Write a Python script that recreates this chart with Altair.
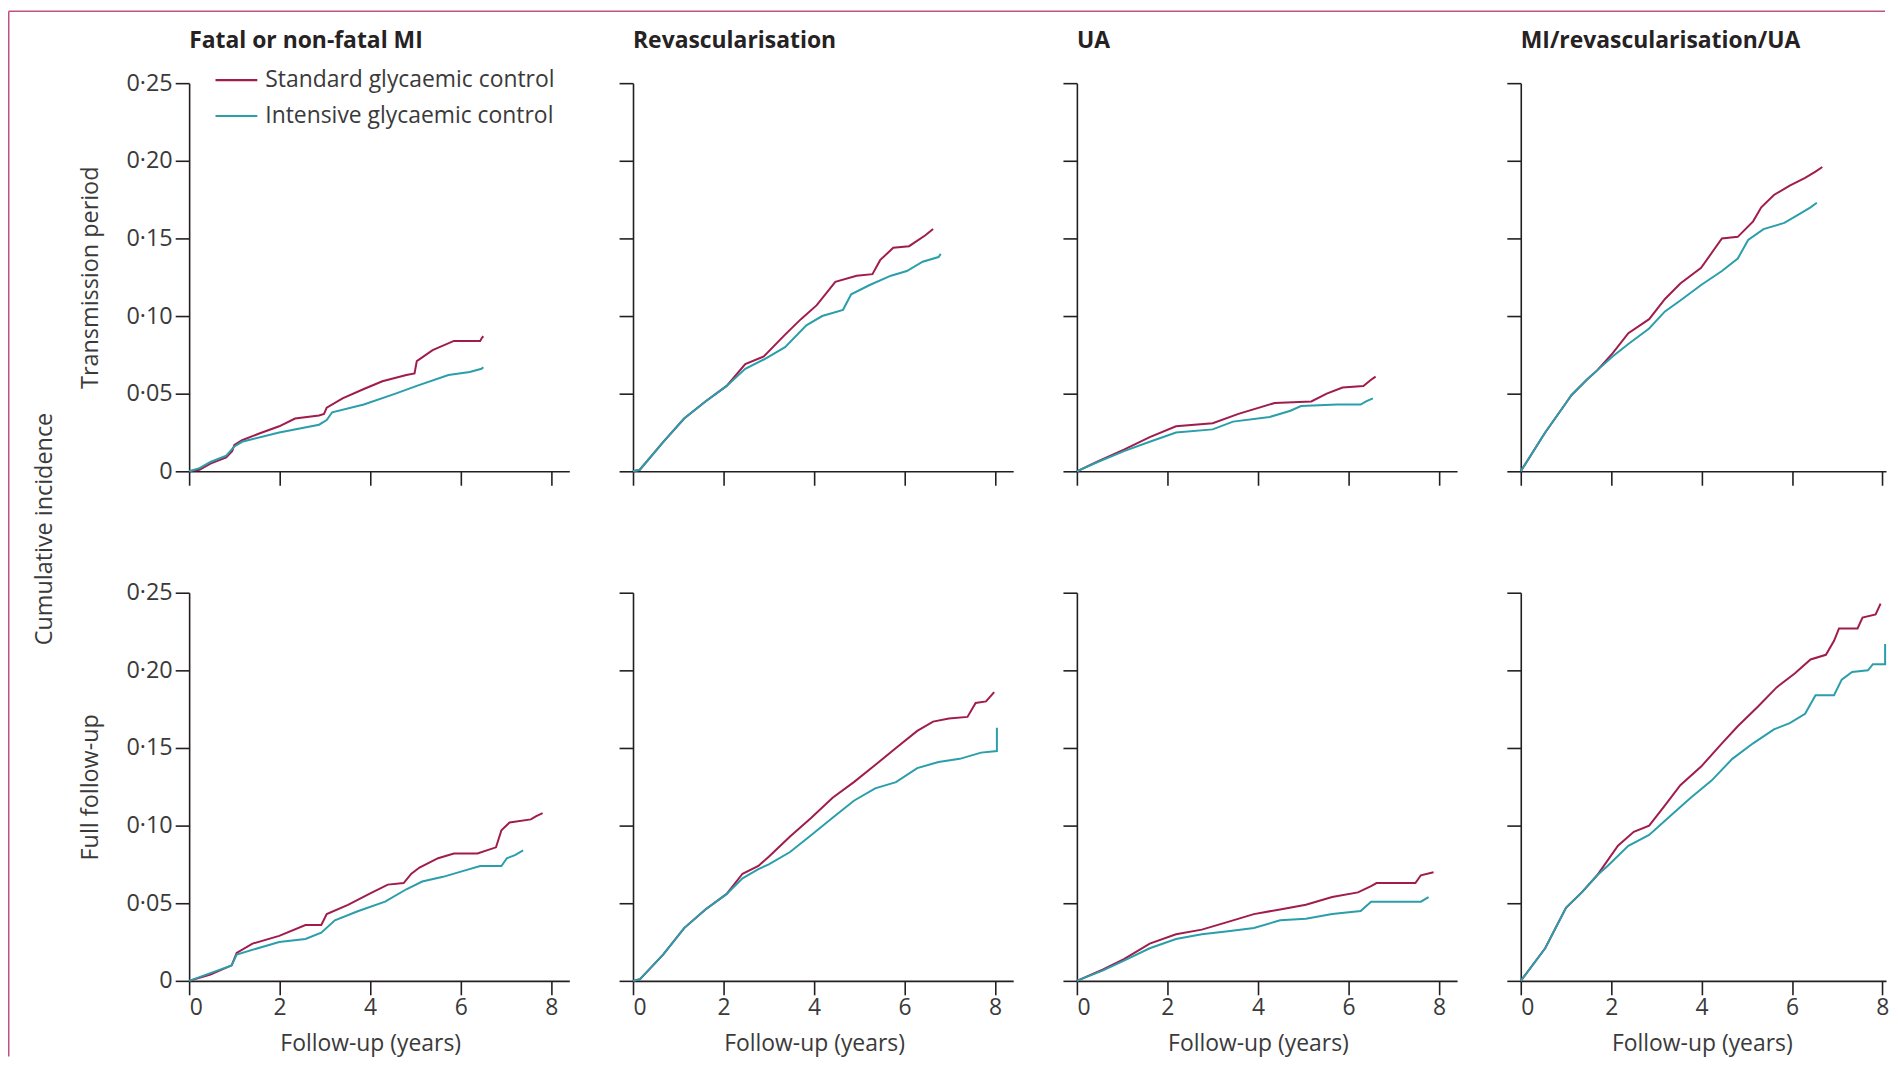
import altair as alt
import pandas as pd

STD = "Standard glycaemic control"
INT = "Intensive glycaemic control"
series_names = [STD, INT]
panel_titles = ["Fatal or non-fatal MI", "Revascularisation", "UA", "MI/revascularisation/UA"]
row_titles = ["Transmission period", "Full follow-up"]
y_title_all = "Cumulative incidence"
x_title = "Follow-up (years)"
x_ticks = [0, 2, 4, 6, 8]
y_ticks = [0, 0.05, 0.10, 0.15, 0.20, 0.25]

# ---- Transmission period ----
mi_tp_std_t = [0, 0.23, 0.47, 0.82, 0.95, 1.0, 1.17, 1.52, 1.99, 2.34, 2.87, 2.98, 3.04, 3.39, 3.86, 4.27, 4.8, 4.98, 5.03, 5.38, 5.85, 6.43, 6.47, 6.5]
mi_tp_std_v = [0, 0.001, 0.005, 0.009, 0.013, 0.017, 0.020, 0.024, 0.029, 0.034, 0.036, 0.037, 0.041, 0.047, 0.053, 0.058, 0.062, 0.063, 0.071, 0.078, 0.084, 0.084, 0.086, 0.087]
mi_tp_int_t = [0, 0.23, 0.47, 0.82, 1.0, 1.17, 1.99, 2.87, 3.04, 3.16, 3.86, 4.56, 5.03, 5.73, 6.2, 6.46, 6.5]
mi_tp_int_v = [0, 0.002, 0.006, 0.010, 0.016, 0.019, 0.025, 0.030, 0.033, 0.038, 0.043, 0.050, 0.055, 0.062, 0.064, 0.066, 0.067]

rv_tp_std_t = [0, 0.15, 0.67, 1.13, 1.6, 2.07, 2.48, 2.89, 3.36, 3.71, 4.06, 4.47, 4.94, 5.29, 5.46, 5.75, 6.1, 6.46, 6.63]
rv_tp_std_v = [0, 0.001, 0.019, 0.034, 0.045, 0.055, 0.069, 0.074, 0.088, 0.098, 0.107, 0.122, 0.126, 0.127, 0.136, 0.144, 0.145, 0.152, 0.156]
rv_tp_int_t = [0, 0.15, 0.67, 1.13, 1.6, 2.07, 2.48, 2.89, 3.36, 3.83, 4.18, 4.64, 4.82, 5.23, 5.7, 6.05, 6.4, 6.75, 6.8]
rv_tp_int_v = [0, 0.001, 0.019, 0.034, 0.045, 0.055, 0.066, 0.072, 0.080, 0.094, 0.100, 0.104, 0.114, 0.120, 0.126, 0.129, 0.135, 0.138, 0.140]

ua_tp_std_t = [0, 0.46, 1.04, 1.61, 2.19, 3.0, 3.57, 4.37, 5.18, 5.52, 5.87, 6.33, 6.5, 6.6]
ua_tp_std_v = [0, 0.0064, 0.014, 0.022, 0.029, 0.031, 0.037, 0.044, 0.045, 0.050, 0.054, 0.055, 0.059, 0.061]
ua_tp_int_t = [0, 0.46, 1.04, 1.61, 2.19, 3.0, 3.45, 4.26, 4.72, 4.95, 5.75, 6.27, 6.39, 6.54]
ua_tp_int_v = [0, 0.006, 0.013, 0.019, 0.025, 0.027, 0.032, 0.035, 0.039, 0.042, 0.043, 0.043, 0.045, 0.047]

co_tp_std_t = [0, 0.54, 1.0, 1.12, 1.46, 1.69, 2.03, 2.38, 2.84, 3.19, 3.53, 3.99, 4.28, 4.45, 4.8, 5.14, 5.32, 5.6, 5.95, 6.29, 6.52, 6.67]
co_tp_std_v = [0, 0.025, 0.044, 0.049, 0.059, 0.065, 0.076, 0.089, 0.098, 0.111, 0.121, 0.131, 0.143, 0.150, 0.151, 0.161, 0.170, 0.178, 0.184, 0.189, 0.193, 0.196]
co_tp_int_t = [0, 0.54, 1.0, 1.12, 1.46, 1.69, 2.03, 2.38, 2.84, 3.19, 3.53, 3.99, 4.45, 4.8, 5.03, 5.37, 5.83, 6.18, 6.41, 6.55]
co_tp_int_v = [0, 0.025, 0.044, 0.049, 0.059, 0.065, 0.074, 0.082, 0.092, 0.103, 0.110, 0.120, 0.129, 0.137, 0.149, 0.156, 0.160, 0.166, 0.170, 0.173]

# ---- Full follow-up ----
mi_ff_std_t = [0, 0.47, 0.94, 1.05, 1.4, 1.99, 2.57, 2.92, 3.04, 3.51, 3.98, 4.39, 4.74, 4.91, 5.09, 5.5, 5.85, 6.37, 6.78, 6.9, 7.08, 7.55, 7.66, 7.81]
mi_ff_std_v = [0, 0.004, 0.010, 0.018, 0.024, 0.029, 0.036, 0.036, 0.043, 0.049, 0.056, 0.062, 0.063, 0.069, 0.073, 0.079, 0.082, 0.082, 0.086, 0.097, 0.102, 0.104, 0.106, 0.108]
mi_ff_int_t = [0, 0.47, 0.94, 1.05, 1.99, 2.57, 2.92, 3.22, 3.74, 4.33, 4.8, 5.15, 5.61, 6.08, 6.43, 6.9, 7.02, 7.2, 7.38]
mi_ff_int_v = [0, 0.005, 0.010, 0.017, 0.025, 0.027, 0.031, 0.039, 0.045, 0.051, 0.059, 0.064, 0.067, 0.071, 0.074, 0.074, 0.079, 0.081, 0.084]

rv_ff_std_t = [0, 0.15, 0.67, 1.13, 1.6, 2.07, 2.42, 2.77, 3.0, 3.47, 3.94, 4.41, 4.88, 5.35, 5.81, 6.28, 6.63, 6.98, 7.39, 7.57, 7.8, 7.98]
rv_ff_std_v = [0, 0.001, 0.017, 0.034, 0.046, 0.056, 0.069, 0.074, 0.080, 0.093, 0.105, 0.118, 0.128, 0.139, 0.150, 0.161, 0.167, 0.169, 0.170, 0.179, 0.180, 0.186]
rv_ff_int_t = [0, 0.15, 0.67, 1.13, 1.6, 2.07, 2.42, 2.77, 3.0, 3.47, 3.94, 4.41, 4.88, 5.35, 5.81, 6.28, 6.75, 7.22, 7.69, 8.04, 8.04]
rv_ff_int_v = [0, 0.001, 0.017, 0.034, 0.046, 0.056, 0.066, 0.072, 0.075, 0.083, 0.094, 0.105, 0.116, 0.124, 0.128, 0.137, 0.141, 0.143, 0.147, 0.148, 0.163]

ua_ff_std_t = [0, 0.58, 1.04, 1.61, 2.19, 2.76, 3.34, 3.91, 4.49, 5.06, 5.64, 6.21, 6.5, 6.62, 7.48, 7.6, 7.88]
ua_ff_std_v = [0, 0.0074, 0.014, 0.024, 0.030, 0.033, 0.038, 0.043, 0.046, 0.049, 0.054, 0.057, 0.061, 0.063, 0.063, 0.068, 0.070]
ua_ff_int_t = [0, 0.58, 1.04, 1.61, 2.19, 2.76, 3.34, 3.91, 4.49, 5.06, 5.64, 6.27, 6.5, 7.6, 7.77]
ua_ff_int_v = [0, 0.0068, 0.013, 0.021, 0.027, 0.030, 0.032, 0.034, 0.039, 0.040, 0.043, 0.045, 0.051, 0.051, 0.054]

co_ff_std_t = [0, 0.54, 1.0, 1.35, 1.69, 2.15, 2.5, 2.84, 3.19, 3.53, 3.99, 4.45, 4.8, 5.26, 5.66, 6.06, 6.41, 6.75, 6.93, 7.04, 7.45, 7.56, 7.85, 7.96]
co_ff_std_v = [0, 0.021, 0.047, 0.057, 0.068, 0.087, 0.096, 0.100, 0.113, 0.126, 0.138, 0.153, 0.164, 0.177, 0.189, 0.198, 0.207, 0.210, 0.219, 0.227, 0.227, 0.234, 0.236, 0.243]
co_ff_int_t = [0, 0.54, 1.0, 1.35, 1.69, 1.92, 2.38, 2.84, 3.3, 3.76, 4.22, 4.68, 5.14, 5.6, 5.95, 6.29, 6.52, 6.93, 7.1, 7.33, 7.68, 7.79, 8.06, 8.06]
co_ff_int_v = [0, 0.021, 0.047, 0.057, 0.068, 0.074, 0.087, 0.094, 0.106, 0.118, 0.129, 0.143, 0.153, 0.162, 0.166, 0.172, 0.184, 0.184, 0.194, 0.199, 0.200, 0.204, 0.204, 0.217]

panels_data = [
    [(mi_tp_std_t, mi_tp_std_v, mi_tp_int_t, mi_tp_int_v),
     (rv_tp_std_t, rv_tp_std_v, rv_tp_int_t, rv_tp_int_v),
     (ua_tp_std_t, ua_tp_std_v, ua_tp_int_t, ua_tp_int_v),
     (co_tp_std_t, co_tp_std_v, co_tp_int_t, co_tp_int_v)],
    [(mi_ff_std_t, mi_ff_std_v, mi_ff_int_t, mi_ff_int_v),
     (rv_ff_std_t, rv_ff_std_v, rv_ff_int_t, rv_ff_int_v),
     (ua_ff_std_t, ua_ff_std_v, ua_ff_int_t, ua_ff_int_v),
     (co_ff_std_t, co_ff_std_v, co_ff_int_t, co_ff_int_v)],
]

# ---- styling ----
FONT = "Open Sans"
RED = "#a01c4d"
TEAL = "#2b9eab"
AXIS_C = "#231f20"
TEXT_C = "#3a3a3a"
BORDER_C = "#bf5283"
PX_PER_YEAR = 45.48
H = 390
COL_SPACING = 64
ROW_SPACING = 122


def label_expr():
    return "datum.value == 0 ? '0' : replace(format(datum.value, '.2f'), '.', '\u00b7')"


def make_panel(r, c):
    st, sv, it, iv = panels_data[r][c]
    df = pd.DataFrame({
        "t": list(st) + list(it),
        "v": list(sv) + list(iv),
        "group": [STD] * len(st) + [INT] * len(it),
        "ord": list(range(len(st))) + list(range(len(it))),
    })
    xdom = 8.08 if c == 3 else 8.4
    width = round(xdom * PX_PER_YEAR)

    x_axis_kw = dict(values=x_ticks, grid=False, tickSize=14, tickWidth=1.6, tickColor=AXIS_C,
                     domainColor=AXIS_C, domainWidth=1.6, labels=(r == 1),
                     labelFont=FONT, labelFontSize=23, labelColor=TEXT_C, labelPadding=2)
    if r == 1:
        x_axis = alt.Axis(title=x_title, titleFont=FONT, titleFontSize=23, titleFontWeight="normal",
                          titleColor=TEXT_C, titleX=4 * PX_PER_YEAR, titleY=63, titleBaseline="middle",
                          **x_axis_kw)
    else:
        x_axis = alt.Axis(title=None, **x_axis_kw)

    y_axis_kw = dict(values=y_ticks, grid=False, tickSize=14, tickWidth=1.6, tickColor=AXIS_C,
                     domainColor=AXIS_C, domainWidth=1.6, labels=(c == 0),
                     labelFont=FONT, labelFontSize=23.5, labelColor=TEXT_C, labelPadding=3,
                     labelExpr=label_expr())
    if c == 0:
        y_axis = alt.Axis(title=row_titles[r], titleFont=FONT, titleFontSize=23.5, titleFontWeight="normal",
                          titleColor=TEXT_C, titleX=-99, titleY=H / 2, titleAngle=270,
                          titleBaseline="middle", **y_axis_kw)
    else:
        y_axis = alt.Axis(title=None, **y_axis_kw)

    if r == 0 and c == 0:
        leg = alt.Legend(orient="none", legendX=35.5, legendY=-15, title=None, padding=0,
                         symbolType="M-2,0H2", symbolSize=441, symbolStrokeWidth=2.2,
                         labelFont=FONT, labelFontSize=23, labelColor=TEXT_C, labelLimit=0,
                         labelOffset=17, rowPadding=12)
    else:
        leg = None

    enc = dict(
        x=alt.X("t:Q", scale=alt.Scale(domain=[0, xdom], nice=False, zero=False), axis=x_axis),
        y=alt.Y("v:Q", scale=alt.Scale(domain=[0, 0.25], nice=False), axis=y_axis),
        color=alt.Color("group:N", scale=alt.Scale(domain=series_names, range=[RED, TEAL]), legend=leg),
        order=alt.Order("ord:Q"),
    )
    base = alt.Chart(df)
    std_line = base.transform_filter(alt.datum.group == STD).mark_line(strokeWidth=2).encode(**enc)
    int_line = base.transform_filter(alt.datum.group == INT).mark_line(strokeWidth=2).encode(**enc)

    title = alt.Chart(pd.DataFrame({"label": [panel_titles[c]]})).mark_text(
        align="left", baseline="middle", font=FONT, fontSize=23, fontWeight="bold", color="#262223"
    ).encode(x=alt.value(0), y=alt.value(-42), text="label:N")

    layers = [std_line, int_line]
    if r == 0:
        layers.append(title)
    if r == 0 and c == 0:
        one = pd.DataFrame({"label": [y_title_all]})
        layers.append(alt.Chart(one).mark_text(
            align="center", baseline="middle", angle=270, font=FONT, fontSize=23.5, color=TEXT_C
        ).encode(x=alt.value(-145), y=alt.value(448), text="label:N"))
        layers.append(alt.Chart(one).mark_rule(color=BORDER_C, strokeWidth=1.5).encode(
            x=alt.value(-181.25), y=alt.value(-72.25), y2=alt.value(978)))
        layers.append(alt.Chart(one).mark_rule(color=BORDER_C, strokeWidth=1.5).encode(
            x=alt.value(-181.25), x2=alt.value(1704), y=alt.value(-72.25)))
    return alt.layer(*layers).properties(width=width, height=H)


panels = [make_panel(r, c) for r in range(2) for c in range(4)]

chart = alt.concat(
    *panels, columns=4, spacing={"row": ROW_SPACING, "column": COL_SPACING}, bounds="flush"
).resolve_scale(
    color="independent", x="independent", y="independent"
).properties(
    padding=0, background="white"
).configure_view(
    strokeWidth=0
)

chart.save("out.html", embed_options={"renderer": "svg", "actions": False})
